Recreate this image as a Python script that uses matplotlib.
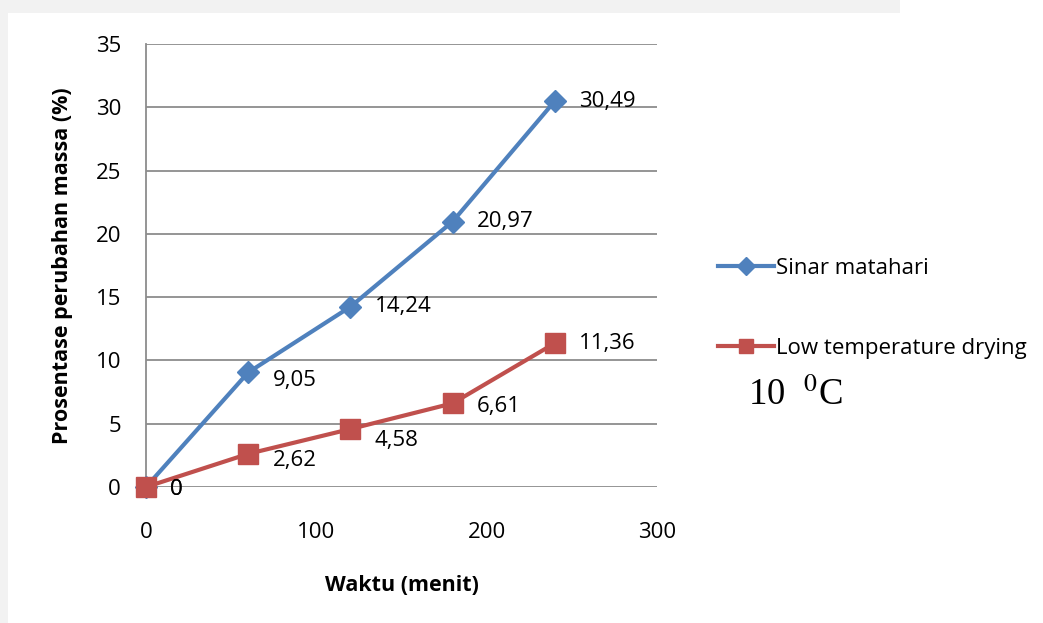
import matplotlib
matplotlib.use("Agg")
import matplotlib.pyplot as plt
from matplotlib.patches import Rectangle

# Data
waktu = [0, 60, 120, 180, 240]
sinar_matahari = [0, 9.05, 14.24, 20.97, 30.49]
low_temp = [0, 2.62, 4.58, 6.61, 11.36]
series_names = ["Sinar matahari", "Low temperature drying"]
x_ticks = [0, 100, 200, 300]
y_ticks = [0, 5, 10, 15, 20, 25, 30, 35]

BLUE = "#4F81BD"
RED = "#C0504D"
GRID = "#8C8C8C"
FONT = "Open Sans"
FS = 16

W, H, DPI = 1043, 623, 100
fig = plt.figure(figsize=(W / DPI, H / DPI), dpi=DPI)
fig.patch.set_facecolor("white")

# page background strips
fig.add_artist(Rectangle((0, 1 - 13 / H), 900 / W, 13 / H, transform=fig.transFigure,
                         facecolor="#F2F2F2", edgecolor="none", zorder=-10))
fig.add_artist(Rectangle((0, 0), 8 / W, 1, transform=fig.transFigure,
                         facecolor="#F2F2F2", edgecolor="none", zorder=-10))

ax = fig.add_axes([146 / W, 1 - 487 / H, (657 - 146) / W, (487 - 44) / H])
ax.set_facecolor("none")
ax.set_xlim(0, 300)
ax.set_ylim(0, 35)
ax.set_xticks(x_ticks)
ax.set_yticks(y_ticks)
ax.yaxis.grid(True, color=GRID, linewidth=1.3)
ax.set_axisbelow(True)
for s in ["top", "right", "bottom"]:
    ax.spines[s].set_visible(False)
ax.spines["left"].set_color(GRID)
ax.spines["left"].set_linewidth(1.3)
ax.tick_params(axis="both", length=0, labelsize=FS, colors="black")
ax.tick_params(axis="x", pad=25)
ax.tick_params(axis="y", pad=18)
for lab in ax.get_xticklabels() + ax.get_yticklabels():
    lab.set_fontfamily(FONT)

l1, = ax.plot(waktu, sinar_matahari, color=BLUE, linewidth=3, marker="D",
              markersize=11, markeredgecolor=BLUE, markerfacecolor=BLUE,
              clip_on=False, zorder=3)
l2, = ax.plot(waktu, low_temp, color=RED, linewidth=3, marker="s",
              markersize=15, markeredgecolor=RED, markerfacecolor=RED,
              clip_on=False, zorder=4)

def fmt(v):
    if v == 0:
        return "0"
    return f"{v:.2f}".replace(".", ",")

blue_dy = [-2, -6, 0, 0, 0]
red_dy = [-2, -5, -8, -2, 0]
for xs, ys, dys in [(waktu, sinar_matahari, blue_dy), (waktu, low_temp, red_dy)]:
    for xv, yv, dy in zip(xs, ys, dys):
        ax.annotate(fmt(yv), (xv, yv), xytext=(17.5, dy),
                    textcoords="offset points", ha="left", va="center",
                    fontsize=FS, fontfamily=FONT, zorder=5)

ax.set_xlabel("Waktu (menit)", fontsize=15.5, fontweight="bold", fontfamily=FONT,
              labelpad=23)
ax.set_ylabel("Prosentase perubahan massa (%)", fontsize=15.5, fontweight="bold",
              fontfamily=FONT, labelpad=16)

leg = ax.legend([l1, l2], series_names, loc="upper left",
                bbox_to_anchor=(718 / W, 1 - 258 / H), bbox_transform=fig.transFigure,
                frameon=False, handlelength=2.5, handletextpad=0.1,
                labelspacing=2.65, borderaxespad=0, borderpad=0,
                prop={"family": FONT, "size": FS})
leg.legend_handles[0].set_markersize(9.5)
leg.legend_handles[1].set_markersize(10)

fig.text(748 / W, 1 - 396 / H, r"10  $^{0}$C", fontsize=26.5,
         fontfamily="Liberation Serif", va="center", ha="left",
         math_fontfamily="stix")

fig.savefig("out.png", dpi=DPI)
